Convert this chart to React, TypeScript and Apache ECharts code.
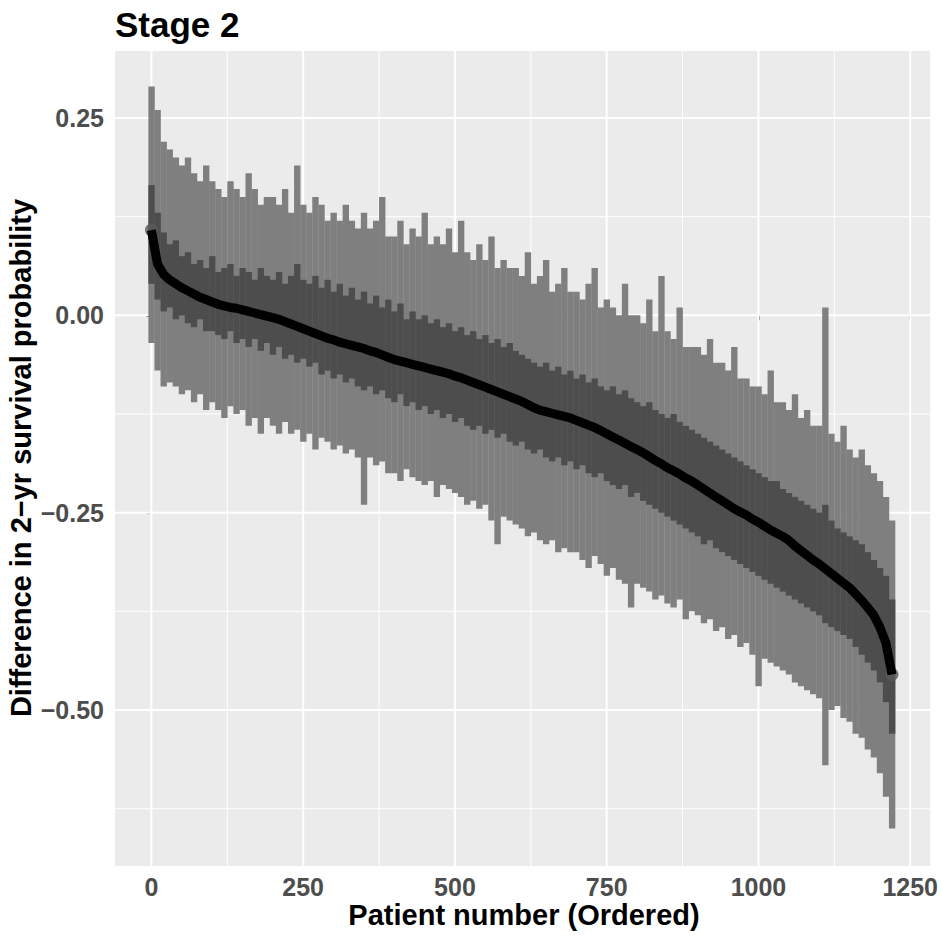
import React, { useEffect, useRef } from "react";
import * as echarts from "echarts";

// Patient positions (ordered), sampled every 10 patients
const patient: number[] = Array.from({ length: 123 }, (_, i) => i * 10);

// Point estimate of the difference in 2-yr survival probability
const estimate: number[] = [
  0.108, 0.065, 0.052, 0.045, 0.040, 0.035, 0.031, 0.027, 0.023, 0.020,
  0.017, 0.014, 0.012, 0.010, 0.009, 0.007, 0.005, 0.003, 0.001, -0.001,
  -0.003, -0.005, -0.008, -0.011, -0.014, -0.017, -0.020, -0.023, -0.026, -0.029,
  -0.031, -0.034, -0.036, -0.038, -0.040, -0.042, -0.045, -0.047, -0.050, -0.053,
  -0.056, -0.058, -0.060, -0.062, -0.064, -0.066, -0.068, -0.070, -0.072, -0.074,
  -0.077, -0.079, -0.082, -0.085, -0.088, -0.091, -0.094, -0.097, -0.100, -0.103,
  -0.106, -0.109, -0.113, -0.117, -0.120, -0.122, -0.124, -0.126, -0.128, -0.130,
  -0.133, -0.136, -0.139, -0.142, -0.146, -0.150, -0.154, -0.158, -0.162, -0.166,
  -0.170, -0.174, -0.179, -0.184, -0.188, -0.193, -0.197, -0.201, -0.206, -0.210,
  -0.215, -0.220, -0.225, -0.230, -0.235, -0.240, -0.245, -0.249, -0.253, -0.258,
  -0.262, -0.267, -0.272, -0.276, -0.280, -0.285, -0.292, -0.298, -0.304, -0.310,
  -0.315, -0.321, -0.327, -0.333, -0.339, -0.345, -0.353, -0.361, -0.370, -0.380,
  -0.395, -0.415, -0.455,
];

// Wide (outer, light grey) interval
const outerHi: number[] = [
  0.29, 0.26, 0.22, 0.21, 0.20, 0.19, 0.20, 0.18, 0.17, 0.19,
  0.17, 0.16, 0.15, 0.17, 0.16, 0.15, 0.18, 0.16, 0.14, 0.15,
  0.15, 0.14, 0.16, 0.13, 0.19, 0.14, 0.13, 0.15, 0.14, 0.12,
  0.13, 0.12, 0.14, 0.12, 0.11, 0.13, 0.11, 0.12, 0.15, 0.10,
  0.10, 0.12, 0.09, 0.11, 0.10, 0.13, 0.09, 0.10, 0.09, 0.11,
  0.08, 0.12, 0.08, 0.07, 0.09, 0.07, 0.10, 0.06, 0.07, 0.06,
  0.06, 0.05, 0.08, 0.04, 0.05, 0.07, 0.03, 0.04, 0.06, 0.03,
  0.03, 0.02, 0.04, 0.06, 0.01, 0.02, 0.01, 0.00, 0.04, 0.00,
  0.00, -0.01, 0.02, -0.02, 0.05, -0.02, -0.03, 0.01, -0.04, -0.04,
  -0.04, -0.05, -0.03, -0.06, -0.06, -0.07, -0.04, -0.08, -0.08, -0.09,
  -0.09, -0.10, -0.07, -0.11, -0.11, -0.12, -0.10, -0.13, -0.12, -0.14,
  -0.14, 0.01, -0.15, -0.16, -0.14, -0.17, -0.18, -0.17, -0.19, -0.20,
  -0.21, -0.23, -0.26,
];
const outerLo: number[] = [
  -0.035, -0.070, -0.090, -0.085, -0.090, -0.100, -0.095, -0.110, -0.100, -0.120,
  -0.110, -0.120, -0.130, -0.115, -0.125, -0.120, -0.140, -0.130, -0.150, -0.130,
  -0.140, -0.150, -0.135, -0.150, -0.145, -0.160, -0.150, -0.170, -0.155, -0.160,
  -0.170, -0.165, -0.175, -0.170, -0.180, -0.240, -0.180, -0.190, -0.185, -0.200,
  -0.200, -0.210, -0.195, -0.205, -0.210, -0.215, -0.210, -0.230, -0.215, -0.220,
  -0.225, -0.230, -0.240, -0.235, -0.245, -0.240, -0.260, -0.290, -0.255, -0.260,
  -0.265, -0.270, -0.280, -0.275, -0.285, -0.290, -0.285, -0.300, -0.295, -0.300,
  -0.300, -0.310, -0.320, -0.305, -0.315, -0.330, -0.320, -0.335, -0.340, -0.370,
  -0.340, -0.345, -0.350, -0.360, -0.355, -0.365, -0.370, -0.360, -0.385, -0.375,
  -0.380, -0.390, -0.385, -0.400, -0.395, -0.410, -0.405, -0.420, -0.415, -0.430,
  -0.470, -0.435, -0.440, -0.445, -0.450, -0.455, -0.465, -0.470, -0.475, -0.480,
  -0.485, -0.570, -0.500, -0.495, -0.510, -0.515, -0.530, -0.535, -0.550, -0.560,
  -0.580, -0.610, -0.650,
];

// Narrow (inner, dark grey) interval
const innerHi: number[] = [
  0.165, 0.130, 0.105, 0.090, 0.095, 0.075, 0.080, 0.065, 0.070, 0.060,
  0.075, 0.055, 0.060, 0.065, 0.050, 0.060, 0.055, 0.045, 0.060, 0.050,
  0.045, 0.055, 0.040, 0.050, 0.065, 0.045, 0.040, 0.050, 0.035, 0.045,
  0.030, 0.040, 0.025, 0.035, 0.020, 0.030, 0.015, 0.025, 0.010, 0.020,
  0.005, 0.015, -0.005, 0.005, -0.005, 0.000, -0.010, -0.005, -0.015, -0.010,
  -0.020, -0.015, -0.025, -0.020, -0.030, -0.025, -0.035, -0.030, -0.040, -0.035,
  -0.045, -0.050, -0.055, -0.060, -0.065, -0.060, -0.070, -0.065, -0.075, -0.070,
  -0.080, -0.075, -0.085, -0.080, -0.090, -0.095, -0.090, -0.100, -0.095, -0.105,
  -0.110, -0.115, -0.110, -0.120, -0.125, -0.130, -0.125, -0.135, -0.140, -0.145,
  -0.150, -0.155, -0.160, -0.165, -0.170, -0.175, -0.180, -0.185, -0.190, -0.195,
  -0.200, -0.205, -0.210, -0.210, -0.220, -0.225, -0.230, -0.235, -0.240, -0.245,
  -0.250, -0.240, -0.260, -0.270, -0.275, -0.280, -0.285, -0.290, -0.300, -0.310,
  -0.320, -0.330, -0.360,
];
const innerLo: number[] = [
  0.040, 0.020, 0.005, 0.010, -0.005, 0.000, -0.010, -0.015, -0.005, -0.020,
  -0.020, -0.025, -0.030, -0.020, -0.035, -0.030, -0.040, -0.030, -0.045, -0.035,
  -0.050, -0.040, -0.055, -0.050, -0.060, -0.055, -0.065, -0.060, -0.075, -0.070,
  -0.080, -0.075, -0.085, -0.080, -0.090, -0.095, -0.090, -0.100, -0.095, -0.105,
  -0.110, -0.100, -0.115, -0.110, -0.120, -0.115, -0.125, -0.120, -0.130, -0.125,
  -0.135, -0.130, -0.140, -0.145, -0.140, -0.150, -0.145, -0.155, -0.150, -0.160,
  -0.165, -0.160, -0.170, -0.175, -0.170, -0.180, -0.185, -0.180, -0.190, -0.185,
  -0.195, -0.190, -0.200, -0.205, -0.200, -0.210, -0.215, -0.220, -0.215, -0.230,
  -0.225, -0.235, -0.240, -0.245, -0.250, -0.255, -0.260, -0.265, -0.270, -0.275,
  -0.280, -0.290, -0.285, -0.295, -0.300, -0.305, -0.310, -0.315, -0.320, -0.325,
  -0.330, -0.335, -0.340, -0.345, -0.350, -0.355, -0.360, -0.365, -0.370, -0.375,
  -0.380, -0.390, -0.395, -0.400, -0.405, -0.410, -0.420, -0.430, -0.440, -0.450,
  -0.465, -0.490, -0.530,
];

// Axes
const xTicks: number[] = [0, 250, 500, 750, 1000, 1250];
const xTickLabels: string[] = ["0", "250", "500", "750", "1000", "1250"];
const xMinor: number[] = [125, 375, 625, 875, 1125];
const yTicks: number[] = [-0.5, -0.25, 0, 0.25];
const yTickLabels: string[] = ["\u22120.50", "\u22120.25", "0.00", "0.25"];
const yMinor: number[] = [-0.625, -0.375, -0.125, 0.125];

const titleText = "Stage 2";
const xTitle = "Patient number (Ordered)";
const yTitle = "Difference in 2\u2212yr survival probability";

const FONT = "'Liberation Sans', Arial, Helvetica, sans-serif";
const HALF = 5;

function labelFor(values: number[], labels: string[]) {
  return (v: number) => {
    const i = values.findIndex((t) => Math.abs(t - v) < 1e-9);
    return i >= 0 ? labels[i] : "";
  };
}

export default function App() {
  const ref = useRef<HTMLDivElement>(null);

  useEffect(() => {
    if (!ref.current) return;
    const chart = echarts.init(ref.current, undefined, { renderer: "svg" });

    const band = (lo: number[], hi: number[], color: string, z: number) => ({
      type: "custom",
      z,
      silent: true,
      clip: true,
      data: patient.map((p, i) => [p, lo[i], hi[i]]),
      encode: { x: 0, y: [1, 2] },
      renderItem: (_params: any, api: any) => {
        const x = api.value(0) as number;
        const a = api.coord([x - HALF, api.value(2)]);
        const b = api.coord([x + HALF, api.value(1)]);
        return {
          type: "rect",
          shape: { x: a[0], y: a[1], width: b[0] - a[0] + 0.3, height: b[1] - a[1] },
          style: { fill: color },
        };
      },
    });

    const hGrid = {
      type: "custom",
      z: 1,
      silent: true,
      data: [...yTicks.map((v) => [0, v, 1]), ...yMinor.map((v) => [0, v, 0])],
      encode: { x: 0, y: 1 },
      renderItem: (params: any, api: any) => {
        const cs = params.coordSys;
        const y = api.coord([0, api.value(1)])[1];
        return {
          type: "line",
          shape: { x1: cs.x, y1: y, x2: cs.x + cs.width, y2: y },
          style: { stroke: "#FFFFFF", lineWidth: api.value(2) ? 2 : 1 },
        };
      },
    };
    const vGrid = {
      type: "custom",
      z: 1,
      silent: true,
      data: [...xTicks.map((v) => [v, 0, 1]), ...xMinor.map((v) => [v, 0, 0])],
      encode: { x: 0, y: 1 },
      renderItem: (params: any, api: any) => {
        const cs = params.coordSys;
        const x = api.coord([api.value(0), 0])[0];
        return {
          type: "line",
          shape: { x1: x, y1: cs.y, x2: x, y2: cs.y + cs.height },
          style: { stroke: "#FFFFFF", lineWidth: api.value(2) ? 2 : 1 },
        };
      },
    };

    const last = patient.length - 1;

    chart.setOption({
      animation: false,
      grid: {
        left: 115,
        right: 8,
        top: 51,
        bottom: 75,
        show: true,
        backgroundColor: "#EBEBEB",
        borderWidth: 0,
      },
      xAxis: {
        type: "value",
        min: -60,
        max: 1283,
        axisLine: { show: false },
        splitLine: { show: false },
        axisTick: {
          show: true,
          customValues: xTicks,
          length: 5,
          lineStyle: { color: "#333333", width: 1.5 },
        },
        axisLabel: {
          customValues: xTicks,
          formatter: labelFor(xTicks, xTickLabels),
          color: "#4D4D4D",
          fontSize: 25,
          fontWeight: "bold",
          fontFamily: FONT,
          margin: 8,
        },
      },
      yAxis: {
        type: "value",
        min: -0.6976,
        max: 0.3349,
        axisLine: { show: false },
        splitLine: { show: false },
        axisTick: {
          show: true,
          customValues: yTicks,
          length: 5,
          lineStyle: { color: "#333333", width: 1.5 },
        },
        axisLabel: {
          customValues: yTicks,
          formatter: labelFor(yTicks, yTickLabels),
          color: "#4D4D4D",
          fontSize: 25,
          fontWeight: "bold",
          fontFamily: FONT,
          margin: 11,
        },
      },
      graphic: [
        {
          type: "text",
          x: 115,
          y: 24,
          style: {
            text: titleText,
            font: `bold 35px ${FONT}`,
            fill: "#000000",
            textAlign: "left",
            textVerticalAlign: "middle",
          },
        },
        {
          type: "text",
          x: 524,
          y: 915,
          style: {
            text: xTitle,
            font: `bold 29px ${FONT}`,
            fill: "#000000",
            textAlign: "center",
            textVerticalAlign: "middle",
          },
        },
        {
          type: "text",
          x: 21,
          y: 458,
          rotation: Math.PI / 2,
          style: {
            text: yTitle,
            font: `bold 29px ${FONT}`,
            fill: "#000000",
            textAlign: "center",
            textVerticalAlign: "middle",
          },
        },
      ],
      series: [
        hGrid,
        vGrid,
        band(outerLo, outerHi, "#7F7F7F", 2),
        band(innerLo, innerHi, "#4D4D4D", 3),
        {
          type: "scatter",
          z: 4,
          silent: true,
          symbol: "circle",
          symbolSize: 13,
          itemStyle: { color: "#5A5A5A" },
          data: [
            [patient[0], estimate[0]],
            [patient[last], estimate[last]],
          ],
        },
        {
          type: "line",
          z: 5,
          silent: true,
          showSymbol: false,
          symbol: "none",
          lineStyle: { color: "#000000", width: 9, join: "round" },
          data: patient.map((p, i) => [p, estimate[i]]),
        },
      ],
    });

    return () => chart.dispose();
  }, []);

  return (
    <div
      ref={ref}
      style={{ position: "absolute", left: 0, top: 0, width: 941, height: 941 }}
    />
  );
}
